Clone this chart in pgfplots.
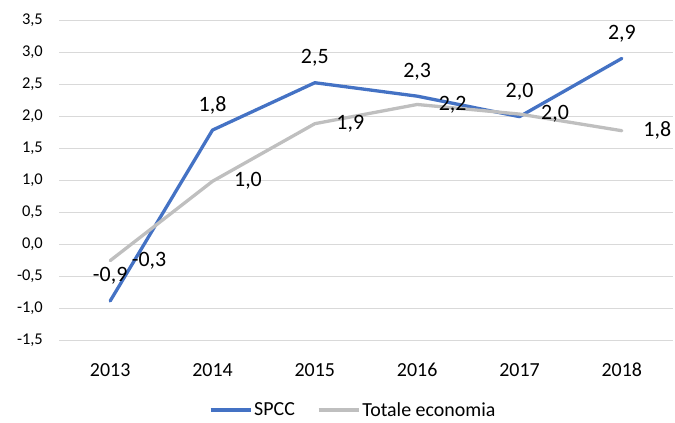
\documentclass[border=0pt]{standalone}
\usepackage{fontspec}
\setmainfont{Carlito}
\usepackage{pgfplots}
\pgfplotsset{compat=1.18}
\usetikzlibrary{calc}
\definecolor{spcc}{HTML}{4472C4}
\definecolor{totale}{HTML}{BFBFBF}
\definecolor{gridgray}{HTML}{D9D9D9}

\begin{document}
\begin{tikzpicture}
\begin{axis}[
	scale only axis,
	width=614bp, height=320bp,
	xmin=-0.5, xmax=5.5,
	ymin=-1.5, ymax=3.5,
	xtick={0,1,2,3,4,5},
	xticklabels={2013,2014,2015,2016,2017,2018},
	ytick={-1.5,-1,-0.5,0,0.5,1,1.5,2,2.5,3,3.5},
	ymajorgrids=true,
	major grid style={gridgray, line width=0.8bp},
	axis line style={draw=none},
	tick style={draw=none},
	clip=false,
	yticklabel style={font=\fontsize{16.5}{18}\selectfont, inner sep=0pt, anchor=east, xshift=-16bp,
		/pgf/number format/.cd, fixed, fixed zerofill, precision=1, use comma, assume math mode=true},
	xticklabel style={font=\fontsize{20}{22}\selectfont, inner sep=0pt, anchor=north, yshift=-23bp},
	legend style={at={(0.479,-0.219)}, anchor=center, draw=none, fill=none,
		font=\fontsize{20}{22}\selectfont,
		/tikz/every even column/.append style={column sep=20bp}},
	legend columns=-1,
	legend image code/.code={\draw[#1, line width=3.4bp, line cap=butt] (0bp,0bp) -- (40bp,0bp);},
	nodes near coords={\pgfmathprintnumber[fixed,fixed zerofill,precision=1,use comma,assume math mode=true]{\pgfplotspointmeta}},
	point meta=y,
]
% SPCC
\addplot[spcc, line width=3.3bp, line cap=round, line join=round,
	every node near coord/.append style={text=black, font=\fontsize{22}{24}\selectfont, inner sep=0pt, anchor=base, yshift=19bp}]
	coordinates {(0,-0.89) (1,1.78) (2,2.52) (3,2.31) (4,1.99) (5,2.90)};
\addlegendentry{SPCC}
% Totale economia
\addplot[totale, line width=3.3bp, line cap=round, line join=round,
	every node near coord/.append style={text=black, font=\fontsize{22}{24}\selectfont, inner sep=0pt, anchor=west, xshift=20bp}]
	coordinates {(0,-0.26) (1,0.98) (2,1.88) (3,2.18) (4,2.03) (5,1.77)};
\addlegendentry{Totale economia}
\end{axis}
\pgfresetboundingbox
\path ($(current axis.south west)+(-59bp,-82bp)$) rectangle ($(current axis.north east)+(2bp,20bp)$);
\end{tikzpicture}
\end{document}
